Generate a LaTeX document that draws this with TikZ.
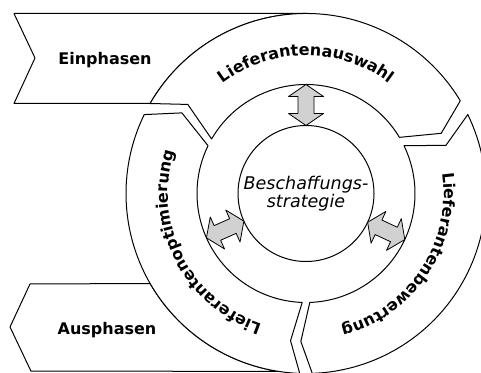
\documentclass[tikz,border=0pt]{standalone}
\usepackage{fontspec}
\setmainfont{DejaVu Sans}
\usetikzlibrary{calc,decorations.text}
\newcommand\ringfont{\bfseries\fontsize{16}{16}\selectfont}
\newcommand\ringseg[4]{%
  \draw[outl] ($(C)+(#1:180)$) arc[start angle=#1,end angle=#2,radius=180]
    -- ($(C)+({#2-#4}:148)$) -- ($(C)+(#2:109)$)
    arc[start angle=#2,end angle=#1,radius=109]
    -- ($(C)+({#1-#3}:148)$) -- cycle;}
\newcommand\dblarr[2]{%
  \begin{scope}[shift={(C)},rotate=#1]
    \draw[dblarrow] (68,0) -- (80,17.5) -- (80,8) -- (97,8) -- (97,17.5) -- (109,0)
      -- (97,-17.5) -- (97,-8) -- (80,-8) -- (80,-17.5) -- cycle;
    \coordinate (#2) at (88.5,0);
  \end{scope}}
\begin{document}
\begin{tikzpicture}[x=1pt,y=1pt,line join=round]
\tikzset{
  outl/.style={draw=black,line width=1pt,fill=white},
  dblarrow/.style={draw=black,line width=0.8pt,fill=black!18},
  phase/.style={font=\bfseries\fontsize{16}{16}\selectfont},
}
\useasboundingbox (0,0) rectangle (481,372);
\coordinate (C) at (306,178.5);
% Einphasen
\draw[outl] (14,358.5) -- (35,314) -- (14,268.5) -- ($(C)+(150:180)$)
  arc[start angle=150,end angle=90,radius=180] -- cycle;
% Ausphasen
\draw[outl] (10,45) -- (30,88) -- ($(C)+(210:180)$)
  arc[start angle=210,end angle=261,radius=180] -- (31,0.8) -- cycle;
% ring segments
\ringseg{150}{31}{7}{7}
\ringseg{26}{-88}{7}{4}
\ringseg{-92}{-206}{4}{7}
% core
\node[circle,draw=black,line width=1pt,fill=white,minimum size=136pt,inner sep=0pt] (core) at (C) {};
\node[align=center,font=\itshape\fontsize{17.5}{18.5}\selectfont] (strat) at (C) {Beschaffungs-\\strategie};
% arrows
\dblarr{90}{aTop}
\dblarr{204}{aLeft}
\dblarr{335}{aRight}
% texts
\node[phase] (ein) at (105,312) {Einphasen};
\node[phase] (aus) at (107,42) {Ausphasen};
\path[decorate,decoration={text along path,text align=center,
  text={|\ringfont|Lieferantenauswahl}}]
  ($(C)+(150:138)$) arc[start angle=150,end angle=30,radius=138];
\path[decorate,decoration={text along path,text align=center,
  text={|\ringfont|Lieferantenbewertung}}]
  ($(C)+(20:138)$) arc[start angle=20,end angle=-87,radius=138];
\path[decorate,decoration={text along path,text align=center,
  text={|\ringfont|Lieferantenoptimierung}}]
  ($(C)+(262:138)$) arc[start angle=262,end angle=151.5,radius=138];
\end{tikzpicture}
\end{document}
